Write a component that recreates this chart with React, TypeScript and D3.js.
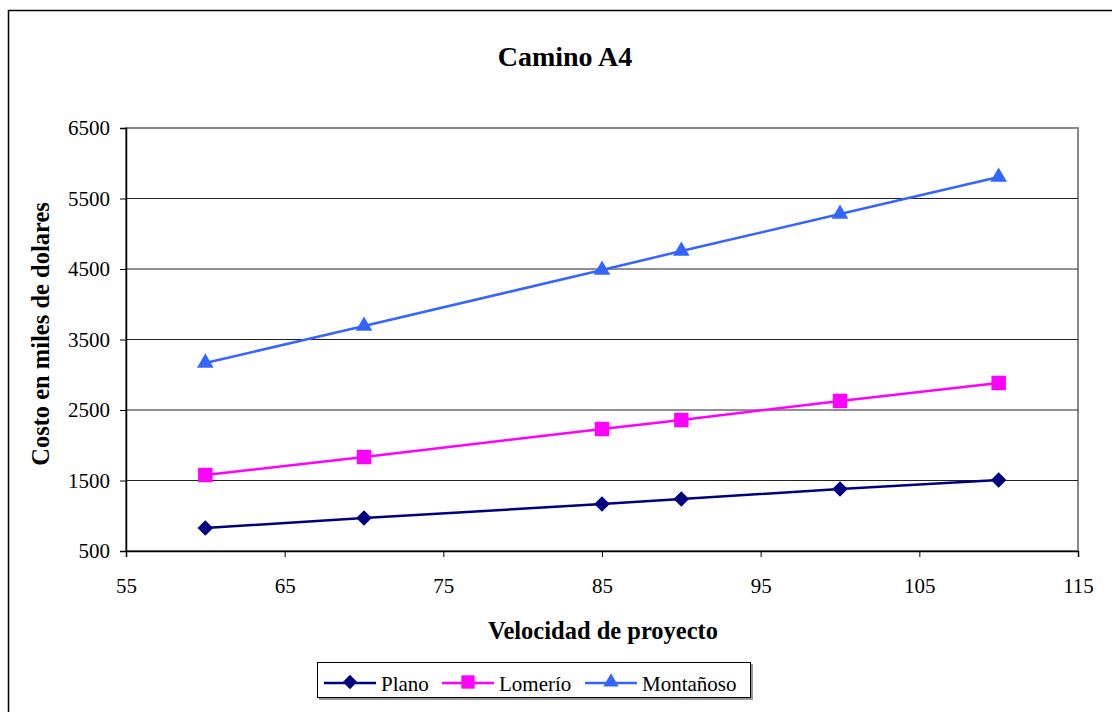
import React, { useEffect, useRef } from "react";
import * as d3 from "d3";

const velocidades = [60, 70, 85, 90, 100, 110];
const plano = [825, 968, 1167, 1238, 1379, 1507];
const lomerio = [1578, 1833, 2230, 2358, 2628, 2883];
const montanoso = [3167, 3691, 4486, 4755, 5280, 5805];
const xTicks = [55, 65, 75, 85, 95, 105, 115];
const yTicks = [500, 1500, 2500, 3500, 4500, 5500, 6500];
const seriesNames = ["Plano", "Lomerío", "Montañoso"];

const W = 1112;
const H = 712;
const FONT = "'Liberation Serif', 'Times New Roman', serif";

export default function App() {
  const ref = useRef<SVGSVGElement>(null);

  useEffect(() => {
    const svg = d3.select(ref.current);
    svg.selectAll("*").remove();

    const left = 126, right = 1078, top = 128, bottom = 551;
    const x = d3.scaleLinear().domain([55, 115]).range([left, right]);
    const y = d3.scaleLinear().domain([500, 6500]).range([bottom, top]);

    // outer chart frame
    svg.append("rect").attr("x", 8.5).attr("y", 10.5).attr("width", W + 20).attr("height", H + 20)
      .attr("fill", "white").attr("stroke", "black").attr("stroke-width", 1.5);

    // title
    svg.append("text").attr("x", 565).attr("y", 66).attr("text-anchor", "middle")
      .attr("font-family", FONT).attr("font-weight", "bold").attr("font-size", 28).text("Camino A4");

    // plot area border (top/right gray)
    svg.append("rect").attr("x", left).attr("y", top).attr("width", right - left).attr("height", bottom - top)
      .attr("fill", "white").attr("stroke", "#888").attr("stroke-width", 2);

    // gridlines
    svg.append("g").selectAll("line").data(yTicks.filter(t => t !== 500 && t !== 6500)).join("line")
      .attr("x1", left).attr("x2", right).attr("y1", d => y(d)).attr("y2", d => y(d))
      .attr("stroke", "#222").attr("stroke-width", 1);

    // y axis
    const yAxis = svg.append("g").attr("transform", `translate(${left},0)`)
      .call(d3.axisLeft(y).tickValues(yTicks).tickSize(6).tickPadding(10).tickFormat(d3.format("d")));
    yAxis.attr("font-size", null).attr("font-family", null);
    yAxis.select(".domain").attr("stroke", "#000").attr("stroke-width", 1.5);
    yAxis.selectAll(".tick line").attr("stroke", "#000");
    yAxis.selectAll("text").attr("font-family", FONT).attr("font-size", 21).attr("fill", "#000");

    // x axis
    const xAxis = svg.append("g").attr("transform", `translate(0,${bottom})`)
      .call(d3.axisBottom(x).tickValues(xTicks).tickSize(6).tickFormat(d3.format("d")));
    xAxis.attr("font-size", null).attr("font-family", null);
    xAxis.select(".domain").attr("stroke", "#000").attr("stroke-width", 1.5);
    xAxis.selectAll(".tick line").attr("stroke", "#000");
    xAxis.selectAll("text").attr("font-family", FONT).attr("font-size", 21).attr("fill", "#000")
      .attr("dy", null).attr("y", 42);

    // axis titles
    svg.append("text").attr("x", 603).attr("y", 639).attr("text-anchor", "middle")
      .attr("font-family", FONT).attr("font-weight", "bold").attr("font-size", 24.5).text("Velocidad de proyecto");
    svg.append("text").attr("transform", `translate(49,334) rotate(-90)`).attr("text-anchor", "middle")
      .attr("font-family", FONT).attr("font-weight", "bold").attr("font-size", 24.5).text("Costo en miles de dolares");

    const series = [
      { name: seriesNames[0], values: plano, color: "#000080", symbol: d3.symbolSquare, size: 120, rot: 45 },
      { name: seriesNames[1], values: lomerio, color: "#FF00FF", symbol: d3.symbolSquare, size: 210, rot: 0 },
      { name: seriesNames[2], values: montanoso, color: "#3366FF", symbol: d3.symbolTriangle, size: 120, rot: 0 },
    ];

    const line = d3.line<[number, number]>().x(d => x(d[0])).y(d => y(d[1]));

    series.forEach(s => {
      const pts = velocidades.map((v, i) => [v, s.values[i]] as [number, number]);
      svg.append("path").attr("d", line(pts)).attr("fill", "none")
        .attr("stroke", s.color).attr("stroke-width", 2.5);
      svg.append("g").selectAll("path").data(pts).join("path")
        .attr("d", d3.symbol().type(s.symbol).size(s.size)())
        .attr("transform", d => `translate(${x(d[0])},${y(d[1])}) rotate(${s.rot})`)
        .attr("fill", s.color);
    });

    // legend
    const lg = svg.append("g");
    lg.append("rect").attr("x", 319).attr("y", 664).attr("width", 434).attr("height", 36).attr("fill", "#999");
    lg.append("rect").attr("x", 317.5).attr("y", 662.5).attr("width", 433).attr("height", 35)
      .attr("fill", "white").attr("stroke", "black").attr("stroke-width", 1);
    const lx = [324, 442, 585];
    series.forEach((s, i) => {
      const cy = 683;
      lg.append("line").attr("x1", lx[i]).attr("x2", lx[i] + 52).attr("y1", cy).attr("y2", cy)
        .attr("stroke", s.color).attr("stroke-width", 2.5);
      lg.append("path").attr("d", d3.symbol().type(s.symbol).size(s.size * 0.85)())
        .attr("transform", `translate(${lx[i] + 26},${cy - 1}) rotate(${s.rot})`).attr("fill", s.color);
      lg.append("text").attr("x", lx[i] + 57).attr("y", cy + 8)
        .attr("font-family", FONT).attr("font-size", 21).text(s.name);
    });
  }, []);

  return (
    <svg ref={ref} width={W} height={H}
      style={{ position: "absolute", left: 0, top: 0, background: "white" }} />
  );
}
